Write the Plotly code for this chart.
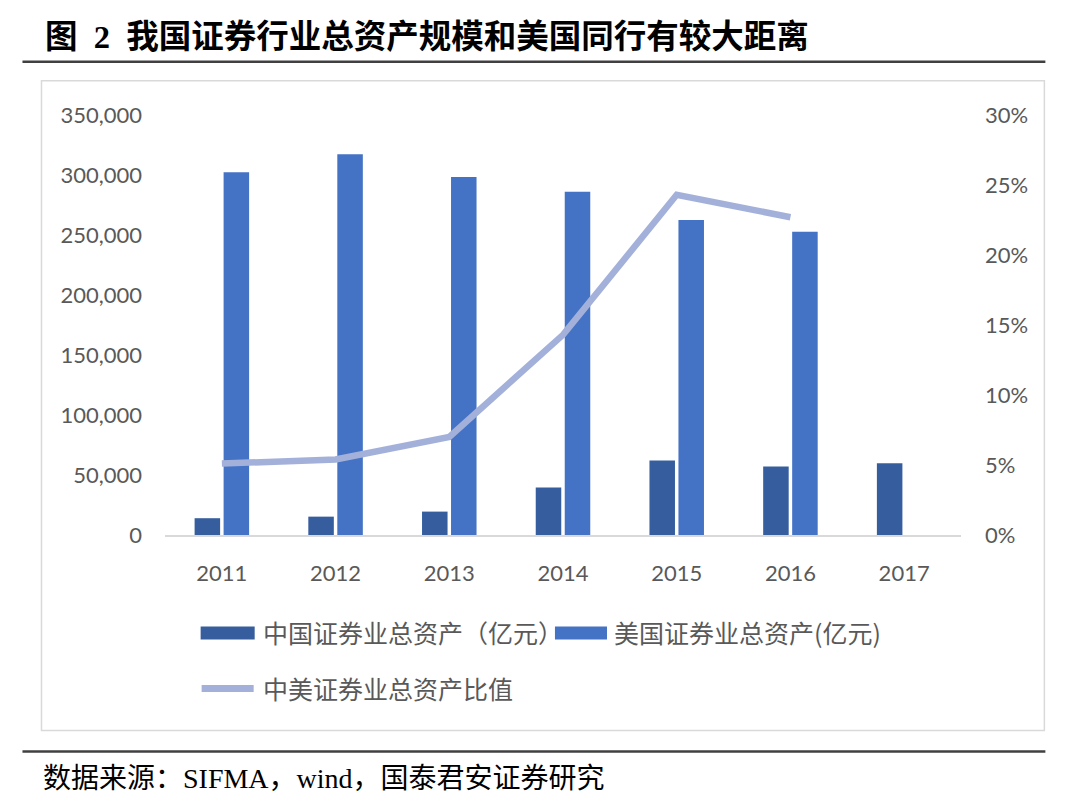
import plotly.graph_objects as go

categories = ["2011", "2012", "2013", "2014", "2015", "2016", "2017"]
china_assets = [14000, 15300, 19500, 39500, 62000, 57000, 59800]
us_assets = [302300, 317200, 298300, 286100, 262500, 252800, None]
ratio = [0.051, 0.054, 0.070, 0.143, 0.243, 0.227, None]

name_cn = "中国证券业总资产（亿元）"
name_us = "美国证券业总资产(亿元)"
name_ratio = "中美证券业总资产比值"
title_text = "图\u00a0\u00a02\u00a0\u00a0我国证券行业总资产规模和美国同行有较大距离"
source_text = "数据来源：SIFMA，wind，国泰君安证券研究"

# page offset (body margin of the html page)
OFF = 8
W, H = 1080, 803
# desired page-pixel plot area: x 165.4..960.7, y 115.3..535.5
ML = 165.4 - OFF
MT = 115.3 - OFF
MR = W - (960.7 - OFF)
MB = H - (535.5 - OFF)
PW, PH = W - ML - MR, H - MT - MB

def px(x):
    return (x - OFF - ML) / PW

def py(y):
    return (H - MB - (y - OFF)) / PH

C_CN = "#365E9E"
C_US = "#4472C4"
C_RATIO = "#A3B1DA"
TXT = "#595959"
TICKFONT = dict(family="Lato, Noto Sans CJK SC", size=22, color=TXT)
CJK = "Noto Sans CJK SC"

fig = go.Figure()
fig.add_trace(go.Bar(x=categories, y=china_assets, name=name_cn,
                     marker=dict(color=C_CN, line=dict(width=0))))
fig.add_trace(go.Bar(x=categories, y=us_assets, name=name_us,
                     marker=dict(color=C_US, line=dict(width=0))))
fig.add_trace(go.Scatter(x=categories, y=ratio, name=name_ratio, yaxis="y2",
                         mode="lines", line=dict(color=C_RATIO, width=6.5),
                         connectgaps=False))

shapes = []
annotations = []

# outer chart box
shapes.append(dict(type="rect", xref="paper", yref="paper",
                   x0=px(42), x1=px(1044), y0=py(81), y1=py(731),
                   line=dict(color="#D9D9D9", width=1.5), fillcolor="rgba(0,0,0,0)",
                   layer="below"))
# title underline and bottom line
for yy in (62, 752):
    shapes.append(dict(type="line", xref="paper", yref="paper",
                       x0=px(23), x1=px(1045), y0=py(yy), y1=py(yy),
                       line=dict(color="#404040", width=2.5)))

# manual legend
shapes.append(dict(type="rect", xref="paper", yref="paper",
                   x0=px(201), x1=px(255), y0=py(627), y1=py(640),
                   fillcolor=C_CN, line=dict(width=0)))
shapes.append(dict(type="rect", xref="paper", yref="paper",
                   x0=px(555), x1=px(607), y0=py(627), y1=py(640),
                   fillcolor=C_US, line=dict(width=0)))
shapes.append(dict(type="line", xref="paper", yref="paper",
                   x0=px(202), x1=px(254), y0=py(689), y1=py(689),
                   line=dict(color=C_RATIO, width=7)))
for x0, y0, txt in ((261, 633, name_cn), (612, 633, name_us), (261, 689, name_ratio)):
    annotations.append(dict(text=txt, xref="paper", yref="paper", x=px(x0), y=py(y0),
                            xanchor="left", yanchor="middle", showarrow=False,
                            font=dict(family=CJK, size=25, color=TXT)))

annotations.append(dict(text="<b>" + title_text + "</b>", xref="paper", yref="paper",
                        x=px(44), y=py(37), xanchor="left", yanchor="middle", showarrow=False,
                        font=dict(family="Liberation Serif, Noto Sans CJK SC", size=32.5, color="#000000")))
annotations.append(dict(text=source_text, xref="paper", yref="paper",
                        x=px(42), y=py(779), xanchor="left", yanchor="middle", showarrow=False,
                        font=dict(family="Liberation Serif, Noto Sans CJK SC", size=28, color="#000000")))

fig.update_layout(
    width=W, height=H,
    margin=dict(l=ML, r=MR, t=MT, b=MB),
    paper_bgcolor="white", plot_bgcolor="white",
    barmode="group", bargap=0.49, bargroupgap=0.12,
    showlegend=False,
    shapes=shapes, annotations=annotations,
    xaxis=dict(type="category", showline=True, linecolor="#D9D9D9", linewidth=1.5,
               showgrid=False, zeroline=False, ticks="", tickfont=TICKFONT,
               ticklabelstandoff=18),
    yaxis=dict(range=[0, 350000], dtick=50000, tickformat=",d", showgrid=False,
               zeroline=False, showline=False, ticks="", tickfont=TICKFONT,
               ticklabelstandoff=22),
    yaxis2=dict(range=[0, 0.30], dtick=0.05, tickformat=".0%", overlaying="y",
                side="right", showgrid=False, zeroline=False, showline=False,
                ticks="", tickfont=TICKFONT, ticklabelstandoff=23),
)

fig.write_html("out.html")
